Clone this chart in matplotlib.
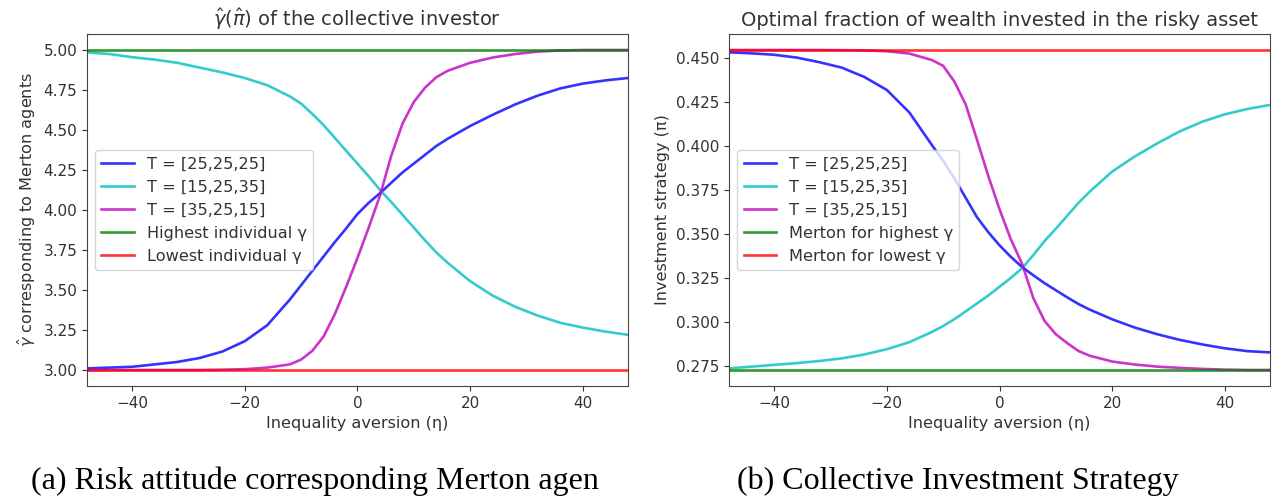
import numpy as np
import matplotlib.pyplot as plt

# inequality aversion grid (eta)
eta = [-48, -44, -40, -36, -32, -28, -24, -20, -16, -12, -10, -8, -6, -4, -2,
       0, 2, 4, 6, 8, 10, 12, 14, 16, 20, 24, 28, 32, 36, 40, 44, 48]

# gamma-hat of the collective investor
gamma_25_25_25 = [3.01, 3.015, 3.02, 3.035, 3.05, 3.075, 3.115, 3.18, 3.28, 3.44, 3.53,
                  3.62, 3.71, 3.80, 3.885, 3.975, 4.045, 4.105, 4.17, 4.235, 4.29, 4.345,
                  4.40, 4.445, 4.525, 4.595, 4.66, 4.715, 4.76, 4.79, 4.81, 4.825]
gamma_15_25_35 = [4.985, 4.975, 4.955, 4.94, 4.92, 4.89, 4.86, 4.825, 4.78, 4.71, 4.665,
                  4.60, 4.53, 4.45, 4.37, 4.29, 4.21, 4.125, 4.05, 3.97, 3.89, 3.81,
                  3.735, 3.67, 3.555, 3.465, 3.395, 3.34, 3.295, 3.265, 3.24, 3.22]
gamma_35_25_15 = [3.00, 3.00, 3.00, 3.00, 3.00, 3.00, 3.002, 3.005, 3.015, 3.035, 3.065,
                  3.12, 3.21, 3.35, 3.52, 3.70, 3.89, 4.09, 4.34, 4.54, 4.675, 4.765,
                  4.83, 4.87, 4.92, 4.953, 4.975, 4.99, 4.997, 5.00, 5.00, 5.00]
gamma_highest = 5.0
gamma_lowest = 3.0

# optimal fraction invested in the risky asset
pi_25_25_25 = [0.4532, 0.4526, 0.4518, 0.4502, 0.4476, 0.4445, 0.4392, 0.4318, 0.4190,
               0.4005, 0.3915, 0.3815, 0.3705, 0.3595, 0.3510, 0.3435, 0.3370, 0.3312,
               0.3265, 0.3220, 0.3180, 0.3140, 0.3102, 0.3070, 0.3015, 0.2968, 0.2930,
               0.2898, 0.2872, 0.2850, 0.2834, 0.2827]
pi_15_25_35 = [0.2736, 0.2746, 0.2756, 0.2766, 0.2778, 0.2793, 0.2815, 0.2845, 0.2885,
               0.2943, 0.2977, 0.3016, 0.3060, 0.3105, 0.3150, 0.3200, 0.3250, 0.3305,
               0.3380, 0.3460, 0.3530, 0.3603, 0.3676, 0.3740, 0.3855, 0.3940, 0.4015,
               0.4083, 0.4138, 0.4180, 0.4210, 0.4233]
pi_35_25_15 = [0.4545, 0.4545, 0.4545, 0.4545, 0.4545, 0.4544, 0.4543, 0.4538, 0.4525,
               0.4488, 0.4455, 0.4365, 0.4235, 0.4035, 0.3830, 0.3640, 0.3470, 0.3330,
               0.3135, 0.3005, 0.2930, 0.2880, 0.2835, 0.2808, 0.2775, 0.2758, 0.2746,
               0.2739, 0.2733, 0.2729, 0.2727, 0.2727]
pi_merton_highest = 0.2727
pi_merton_lowest = 0.4545

series_labels = ['T = [25,25,25]', 'T = [15,25,35]', 'T = [35,25,15]']
series_colors = ['b', 'c', 'm']

text_color = '#333333'
plt.rcParams['font.size'] = 11
plt.rcParams['axes.labelsize'] = 11.6
plt.rcParams['legend.fontsize'] = 11.6
plt.rcParams['text.color'] = text_color
plt.rcParams['axes.labelcolor'] = text_color
plt.rcParams['xtick.color'] = text_color
plt.rcParams['ytick.color'] = text_color
plt.rcParams['axes.edgecolor'] = '#444444'

fig = plt.figure(figsize=(12.75, 5.0), dpi=100)
ax1 = fig.add_axes([0.0682, 0.228, 0.4243, 0.704])
ax2 = fig.add_axes([0.5718, 0.228, 0.4243, 0.704])

lw = 1.9
alpha = 0.8

# left panel: gamma-hat
for vals, lab, col in zip([gamma_25_25_25, gamma_15_25_35, gamma_35_25_15],
                          series_labels, series_colors):
    ax1.plot(eta, vals, color=col, lw=lw, alpha=alpha, label=lab)
ax1.axhline(gamma_highest, color='g', lw=lw, alpha=alpha, label='Highest individual γ')
ax1.axhline(gamma_lowest, color='r', lw=lw, alpha=alpha, label='Lowest individual γ')
ax1.set_xlim(-48, 48)
ax1.set_ylim(2.9, 5.1)
ax1.set_title(r'$\hat{\gamma}(\hat{\pi})$ of the collective investor', fontsize=14)
ax1.set_xlabel('Inequality aversion (η)')
ax1.set_ylabel(r'$\hat{\gamma}$ corresponding to Merton agents')
ax1.legend(loc='center left')

# right panel: investment strategy
for vals, lab, col in zip([pi_25_25_25, pi_15_25_35, pi_35_25_15],
                          series_labels, series_colors):
    ax2.plot(eta, vals, color=col, lw=lw, alpha=alpha, label=lab)
ax2.axhline(pi_merton_highest, color='g', lw=lw, alpha=alpha, label='Merton for highest γ')
ax2.axhline(pi_merton_lowest, color='r', lw=lw, alpha=alpha, label='Merton for lowest γ')
ax2.set_xlim(-48, 48)
ax2.set_ylim(0.2636, 0.4636)
ax2.set_title('Optimal fraction of wealth invested in the risky asset', fontsize=14)
ax2.set_xlabel('Inequality aversion (η)')
ax2.set_ylabel('Investment strategy (π)')
ax2.legend(loc='center left')

# sub-figure captions
fig.text(0.247, 0.022, '(a) Risk attitude corresponding Merton agen',
         family='Liberation Serif', fontsize=23, color='black', ha='center')
fig.text(0.751, 0.022, '(b) Collective Investment Strategy',
         family='Liberation Serif', fontsize=23, color='black', ha='center')

fig.savefig('out.png', dpi=100)
